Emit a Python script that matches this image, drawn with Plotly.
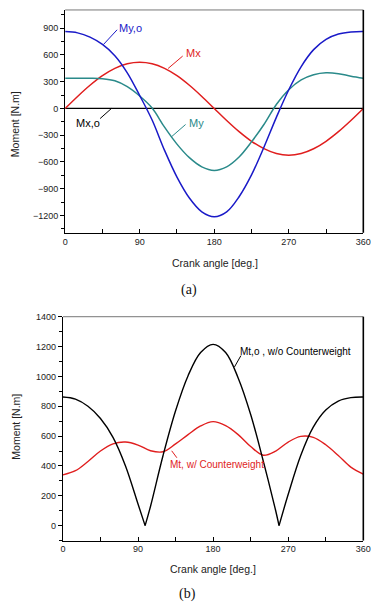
import plotly.graph_objects as go

# ---------------- data ----------------
deg = [0, 15, 30, 45, 60, 75, 90, 105, 120, 135, 150, 165, 180,
       195, 210, 225, 240, 255, 270, 285, 300, 315, 330, 345, 360]

# panel (a)
my_o = [862, 848, 800, 718, 592, 400, 145, -130, -470, -770, -1005, -1160, -1215,
        -1160, -990, -745, -435, -100, 210, 470, 660, 775, 835, 858, 862]
mx = [0, 135, 260, 368, 450, 502, 519, 502, 450, 368, 260, 135, 0,
      -135, -260, -368, -450, -505, -524, -505, -452, -368, -260, -135, 0]
my = [338, 339, 339, 334, 310, 245, 140, 5, -210, -400, -552, -655, -695,
      -655, -545, -375, -180, 45, 210, 320, 378, 400, 390, 362, 340]
mx_o = [0] * len(deg)

# panel (b)
mt_o_deg = [0, 15, 30, 45, 60, 75, 90, 98.5, 105, 120, 135, 150, 165, 180,
            195, 210, 225, 240, 255, 259, 270, 285, 300, 315, 330, 345, 360]
mt_o = [862, 848, 800, 718, 592, 400, 145, 0, 130, 470, 770, 1005, 1160, 1215,
        1160, 990, 745, 435, 100, 0, 210, 470, 660, 775, 835, 858, 862]
mt = [340, 368, 430, 500, 548, 560, 540, 502, 495, 548, 610, 668, 697,
      670, 610, 530, 472, 500, 560, 598, 592, 542, 470, 392, 345]

x_ticks = [0, 90, 180, 270, 360]

# ---------------- styling ----------------
W, H = 382, 608
FONT = "Liberation Sans, Arial, sans-serif"
BLUE = "#1a1ac8"
RED = "#e01e1e"
TEAL = "#2a8a8a"
BLACK = "#000000"


def px(x, y):
    return x / W, 1 - y / H


fig = go.Figure()

# panel (a) traces
fig.add_trace(go.Scatter(x=deg, y=mx_o, mode="lines", line=dict(color=BLACK, width=1.3),
                         xaxis="x", yaxis="y"))
fig.add_trace(go.Scatter(x=deg, y=mx, mode="lines", line=dict(color=RED, width=1.5, shape="spline"),
                         xaxis="x", yaxis="y"))
fig.add_trace(go.Scatter(x=deg, y=my, mode="lines", line=dict(color=TEAL, width=1.5, shape="spline"),
                         xaxis="x", yaxis="y"))
fig.add_trace(go.Scatter(x=deg, y=my_o, mode="lines", line=dict(color=BLUE, width=1.5, shape="spline"),
                         xaxis="x", yaxis="y"))

# panel (b) traces
fig.add_trace(go.Scatter(x=deg, y=mt, mode="lines", line=dict(color=RED, width=1.4, shape="spline"),
                         xaxis="x2", yaxis="y2"))
# black curve split at its zero points so the V tips stay sharp
zero_idx = [i for i, v in enumerate(mt_o) if v == 0]
cuts = [0] + zero_idx + [len(mt_o) - 1]
for a, b in zip(cuts[:-1], cuts[1:]):
    fig.add_trace(go.Scatter(x=mt_o_deg[a:b + 1], y=mt_o[a:b + 1], mode="lines",
                             line=dict(color=BLACK, width=1.4, shape="spline"),
                             xaxis="x2", yaxis="y2"))

tickfont = dict(family=FONT, size=9, color="#222")
common_x = dict(range=[0, 360], tickvals=x_ticks, ticks="inside", ticklen=4, tickwidth=1,
                tickcolor=BLACK, showline=True, linecolor=BLACK, linewidth=1,
                showgrid=False, zeroline=False, tickfont=tickfont,
                minor=dict(dtick=45, tick0=0, ticks="inside", ticklen=4, tickcolor=BLACK, showgrid=False))

fig.update_layout(
    width=W, height=H, autosize=False,
    margin=dict(l=0, r=0, t=0, b=0),
    paper_bgcolor="white", plot_bgcolor="white",
    showlegend=False,
    xaxis=dict(domain=[64 / W, 371 / W], anchor="y", **common_x),
    yaxis=dict(domain=[1 - 229.7 / H, 1 - 5 / H], anchor="x", range=[-1395, 1105],
               tick0=0, dtick=300, ticks="outside", ticklen=4, tickcolor=BLACK,
               showline=True, linecolor=BLACK, linewidth=1, showgrid=False, zeroline=False,
               tickfont=tickfont,
               minor=dict(dtick=150, tick0=0, ticks="outside", ticklen=3, tickcolor=BLACK, showgrid=False)),
    xaxis2=dict(domain=[61.7 / W, 371 / W], anchor="y2", **common_x),
    yaxis2=dict(domain=[1 - 540 / H, 1 - 314.3 / H], anchor="x2", range=[-100, 1400],
                tick0=0, dtick=200, ticks="outside", ticklen=4, tickcolor=BLACK,
                showline=True, linecolor=BLACK, linewidth=1, showgrid=False, zeroline=False,
                tickfont=tickfont,
                minor=dict(dtick=100, tick0=0, ticks="outside", ticklen=3, tickcolor=BLACK, showgrid=False)),
)

shapes = []
# frame: grey top, black right edges
for xr, yr in (("x domain", "y domain"), ("x2 domain", "y2 domain")):
    shapes.append(dict(type="line", xref=xr, yref=yr, x0=0, x1=1, y0=1, y1=1,
                       line=dict(color="#777", width=1)))
    shapes.append(dict(type="line", xref=xr, yref=yr, x0=1, x1=1, y0=0, y1=1,
                       line=dict(color=BLACK, width=1.6)))

# leader lines (pixel positions of label callouts)
leaders = [
    ((103.3, 40), (117.5, 25), BLUE),
    ((170, 64), (185, 51.5), RED),
    ((111.7, 104.3), (100, 114.5), BLACK),
    ((173.3, 133), (188, 120.5), TEAL),
    ((238.3, 365), (245, 353.5), BLACK),
    ((173.7, 449.5), (179, 456.5), RED),
]
for (x0, y0), (x1, y1), c in leaders:
    a0, b0 = px(x0, y0)
    a1, b1 = px(x1, y1)
    shapes.append(dict(type="line", xref="paper", yref="paper", x0=a0, y0=b0, x1=a1, y1=b1,
                       line=dict(color=c, width=1)))
fig.update_layout(shapes=shapes)

annots = []


def label(text, x, y, color, size=10.5, xanchor="left", family=FONT, angle=0):
    a, b = px(x, y)
    annots.append(dict(text=text, x=a, y=b, xref="paper", yref="paper", showarrow=False,
                       xanchor=xanchor, yanchor="middle", textangle=angle,
                       font=dict(family=family, size=size, color=color)))


label("My,o", 117.5, 23, BLUE, size=11)
label("Mx", 186.5, 48.5, RED, size=11)
label("Mx,o", 73, 118.5, BLACK, size=11)
label("My", 189.5, 118.5, TEAL, size=11)
label("Mt,o , w/o Counterweight", 242, 349.5, BLACK, size=10)
label("Mt, w/ Counterweight", 170, 463, RED, size=10)

label("Moment [N.m]", 12.5, 120, "#222", size=10.5, xanchor="center", angle=-90)
label("Crank angle [deg.]", 218, 260, "#222", size=10.5, xanchor="center")
label("Moment [N.m]", 12.5, 425, "#222", size=10.5, xanchor="center", angle=-90)
label("Crank angle [deg.]", 216, 569, "#222", size=10.5, xanchor="center")
label("(a)", 192, 287.5, "#111", size=14, xanchor="center", family="Liberation Serif, Times New Roman, serif")
label("(b)", 190, 593.5, "#111", size=14, xanchor="center", family="Liberation Serif, Times New Roman, serif")

fig.update_layout(annotations=annots)

fig.write_html("out.html", config={"displayModeBar": False},
               post_script="document.body.style.margin='0';document.body.style.overflow='hidden';")
